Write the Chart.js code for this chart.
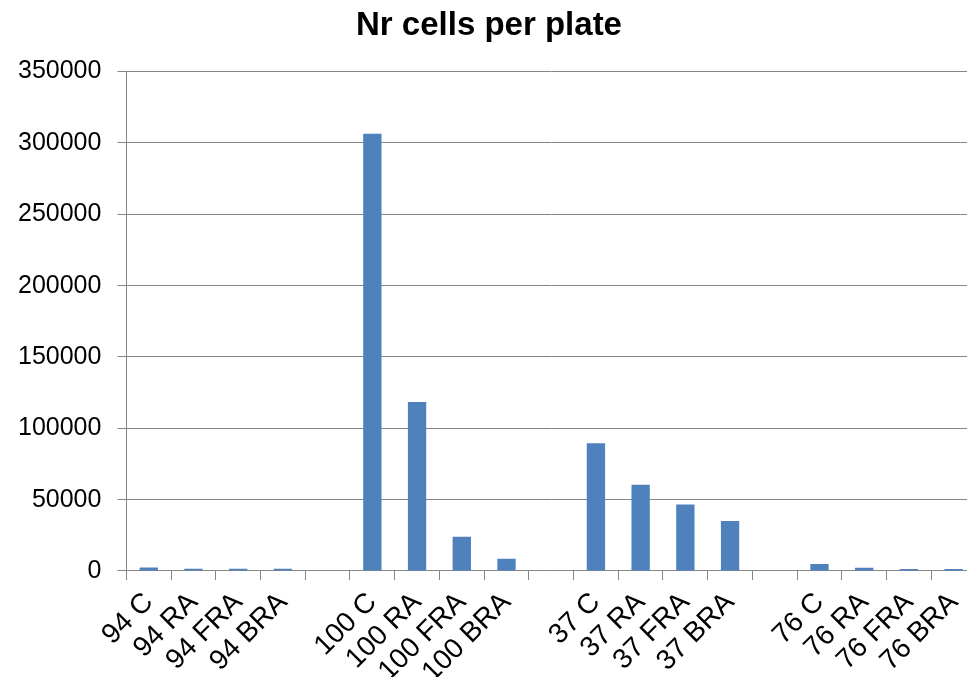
<!DOCTYPE html>
<html>
<head>
<meta charset="utf-8">
<script src="https://cdn.jsdelivr.net/npm/chart.js@4/dist/chart.umd.min.js"></script>
<style>
  html, body { margin: 0; padding: 0; background: #fff; overflow: hidden; }
  #wrap { width: 996px; height: 695px; }
</style>
</head>
<body>
<div id="wrap"><canvas id="cells" width="996" height="695"></canvas></div>
<script>
// Nr cells per plate — groups of 4 treatments, blank slot between groups
const categories = ['94 C', '94 RA', '94 FRA', '94 BRA', '',
                    '100 C', '100 RA', '100 FRA', '100 BRA', '',
                    '37 C', '37 RA', '37 FRA', '37 BRA', '',
                    '76 C', '76 RA', '76 FRA', '76 BRA'];
const cellCounts = [2500, 1600, 1500, 1500, null,
                    306500, 118500, 24000, 8600, null,
                    89500, 60400, 46600, 35000, null,
                    4900, 2200, 1400, 1400];
const yTicks = [0, 50000, 100000, 150000, 200000, 250000, 300000, 350000];

const axisGrey = '#868686';
const barBlue  = '#4f81bd';
const fontFam  = '"Liberation Sans", Arial, sans-serif';

new Chart(document.getElementById('cells'), {
    type: 'bar',
    data: {
        labels: categories,
        datasets: [{
            label: 'Nr cells',
            data: cellCounts,
            backgroundColor: barBlue,
            borderWidth: 0,
            barPercentage: 0.41,
            categoryPercentage: 1.0,
        }]
    },
    options: {
        responsive: false,
        animation: false,
        layout: { padding: { top: 0, right: 20, left: 2, bottom: 0 } },
        plugins: {
            legend: { display: false },
            tooltip: { enabled: false },
            title: {
                display: true,
                text: 'Nr cells per plate',
                color: '#000',
                font: { family: fontFam, size: 33, weight: 'bold' },
                padding: { top: 6, bottom: 26 }
            }
        },
        scales: {
            x: {
                offset: true,
                grid: { display: true, drawOnChartArea: false, drawTicks: true, tickLength: 9, color: axisGrey, offset: true },
                border: { display: true, color: axisGrey },
                ticks: {
                    color: '#000',
                    font: { family: fontFam, size: 28 },
                    minRotation: 45, maxRotation: 45, autoSkip: false,
                    padding: 6
                }
            },
            y: {
                min: 0, max: 350000,
                afterBuildTicks: axis => { axis.ticks = yTicks.map(v => ({ value: v })); },
                grid: { color: axisGrey, tickLength: 9 },
                border: { display: true, color: axisGrey },
                ticks: {
                    color: '#000',
                    font: { family: fontFam, size: 25 },
                    padding: 16,
                    callback: v => String(v)
                }
            }
        }
    }
});
</script>
</body>
</html>
